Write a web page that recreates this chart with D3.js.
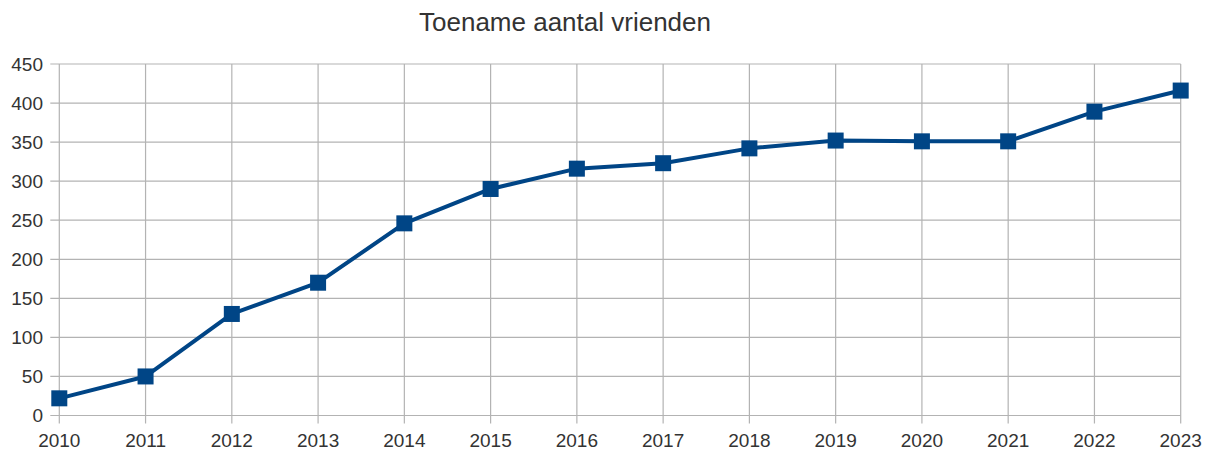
<!DOCTYPE html>
<html><head><meta charset="utf-8">
<script src="https://cdn.jsdelivr.net/npm/d3@7"></script>
<style>body{margin:0;background:#fff}</style>
</head><body>
<svg id="c" width="1211" height="452"></svg>
<script>
const title = "Toename aantal vrienden";
const years = [2010,2011,2012,2013,2014,2015,2016,2017,2018,2019,2020,2021,2022,2023];
const friends = [22,50,130,170,246,290,316,323,342,352,351,351,389,416];
const yTicks = [0,50,100,150,200,250,300,350,400,450];

const svg = d3.select("#c");
const m = {left:59.3, right:1180.7, top:64, bottom:415.5};
const x = d3.scaleLinear().domain([2010,2023]).range([m.left,m.right]);
const y = d3.scaleLinear().domain([0,450]).range([m.bottom,m.top]);
const font = "'Liberation Sans', Arial, sans-serif";
const grid = "#b3b3b3";

// horizontal grid
svg.append("g").selectAll("line").data(yTicks).join("line")
  .attr("x1", m.left-9).attr("x2", m.right)
  .attr("y1", d=>y(d)).attr("y2", d=>y(d))
  .attr("stroke", grid).attr("stroke-width",1.2);
// vertical grid
svg.append("g").selectAll("line").data(years).join("line")
  .attr("x1", d=>x(d)).attr("x2", d=>x(d))
  .attr("y1", m.top).attr("y2", m.bottom+8)
  .attr("stroke", grid).attr("stroke-width",1.2);

// y labels
svg.append("g").selectAll("text").data(yTicks).join("text")
  .attr("x", 43).attr("y", d=>y(d)).attr("dy","0.35em")
  .attr("text-anchor","end").attr("font-family",font).attr("font-size",19)
  .attr("fill","#333").text(d=>d);
// x labels
svg.append("g").selectAll("text").data(years).join("text")
  .attr("x", d=>x(d)).attr("y", 447)
  .attr("text-anchor","middle").attr("font-family",font).attr("font-size",19)
  .attr("fill","#333").text(d=>d);

// title
svg.append("text").attr("x",565).attr("y",31).attr("text-anchor","middle")
  .attr("font-family",font).attr("font-size",26).attr("fill","#333").text(title);

const data = years.map((yr,i)=>({yr, v:friends[i]}));
svg.append("path").datum(data)
  .attr("fill","none").attr("stroke","#004586").attr("stroke-width",4)
  .attr("stroke-linejoin","round")
  .attr("d", d3.line().x(d=>x(d.yr)).y(d=>y(d.v)));
svg.append("g").selectAll("rect").data(data).join("rect")
  .attr("x", d=>x(d.yr)-8).attr("y", d=>y(d.v)-8)
  .attr("width",16).attr("height",16).attr("fill","#004586");
</script>
</body></html>
